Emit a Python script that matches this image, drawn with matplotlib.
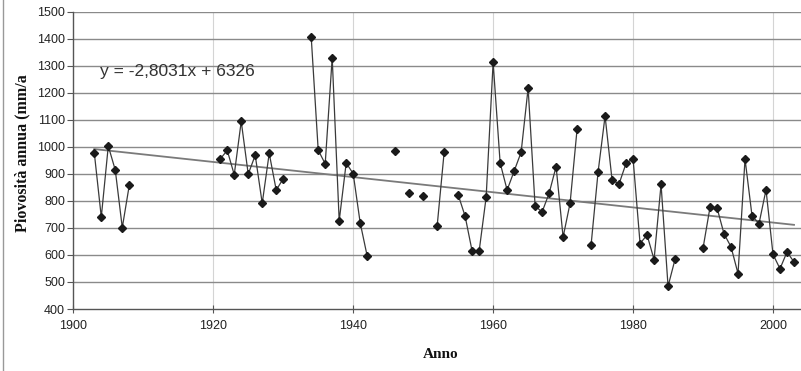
import numpy as np
import matplotlib
matplotlib.use("Agg")
import matplotlib.pyplot as plt
from matplotlib.lines import Line2D

# ---- data ----
years = list(range(1903, 2004))
rain = [
    978, 740, 1003, 914, 701, 858,                      # 1903-1908
    None, None, None, None, None, None, None, None, None, None, None, None,  # 1909-1920
    955, 987, 897, 1094, 899, 969, 791, 976, 840, 882,  # 1921-1930
    None, None, None,                                   # 1931-1933
    1407, 988, 937, 1330, 726, 940, 901, 719, 596,      # 1934-1942
    None, None, None,                                   # 1943-1945
    986, None, 830, None, 819, None, 707, 980, None,    # 1946-1954
    823, 743, 614, 614, 813, 1313, 941, 840, 910, 980,  # 1955-1964
    1217, 781, 759, 828, 927, 666, 792, 1066, None,     # 1965-1973
    637, 907, 1114, 877, 863, 939, 956, 642, 674, 583,  # 1974-1983
    861, 484, 584,                                      # 1984-1986
    None, None, None,                                   # 1987-1989
    625, 777, 774, 678, 630, 531, 955, 745, 716, 841,   # 1990-1999
    602, 549, 611, 574,                                 # 2000-2003
]
trend_slope = -2.8031
trend_intercept = 6326
trend_years = [1903, 2003]
equation_label = "y = -2,8031x + 6326"
x_ticks = [1900, 1920, 1940, 1960, 1980, 2000]
y_ticks = list(range(400, 1501, 100))

yrs = np.array(years, dtype=float)
vals = np.array([np.nan if v is None else v for v in rain], dtype=float)

fig = plt.figure(figsize=(8.01, 3.71), dpi=100)
ax = fig.add_axes([73.3 / 801, (371 - 309) / 371, 1 - 73.3 / 801, (309 - 11.7) / 371])

ax.set_xlim(1900, 2004)
ax.set_ylim(400, 1500)

# grids
for yv in y_ticks[1:]:
    ax.axhline(yv, color="#8a8a8a", lw=1.0, zorder=1)
for xv in x_ticks[1:]:
    ax.axvline(xv, color="#d4d4d4", lw=0.8, zorder=0.5)

# trend
tx = np.array(trend_years, dtype=float)
ax.plot(tx, trend_slope * tx + trend_intercept, color="#7a7a7a", lw=1.3, zorder=2)

# series
ax.plot(yrs, vals, color="#3a3a3a", lw=0.9, zorder=3)
ax.plot(yrs, vals, linestyle="none", marker="D", markersize=4.2,
        color="#1a1a1a", zorder=4)

ax.text(1903.8, 1278, equation_label, fontsize=12.5, color="#333333",
        family="Liberation Sans", va="center", ha="left")

ax.set_xticks(x_ticks)
ax.set_yticks(y_ticks)
ax.set_xticklabels([str(t) for t in x_ticks], fontsize=9, family="Liberation Sans", color="#222222")
ax.set_yticklabels([str(t) for t in y_ticks], fontsize=9, family="Liberation Sans", color="#222222")
ax.tick_params(axis="y", direction="out", length=4, width=0.8, color="#555555", pad=2)
ax.tick_params(axis="x", direction="inout", length=6, width=0.8, color="#555555", pad=5)

for s in ["top", "right"]:
    ax.spines[s].set_visible(False)
for s in ["left", "bottom"]:
    ax.spines[s].set_color("#555555")
    ax.spines[s].set_linewidth(1.0)

fig.text(22 / 801, 1 - 153 / 371, "Piovosità annua (mm/a", rotation=90,
         fontsize=11.5, fontweight="bold", family="Liberation Serif",
         ha="center", va="center", color="#111111")
fig.text(441 / 801, 1 - 355 / 371, "Anno", fontsize=11, fontweight="bold",
         family="Liberation Serif", ha="center", va="center", color="#111111")

fig.add_artist(Line2D([2.5 / 801, 2.5 / 801], [0, 1], transform=fig.transFigure,
                      color="#999999", lw=1.0))

fig.savefig("out.png", dpi=100)
